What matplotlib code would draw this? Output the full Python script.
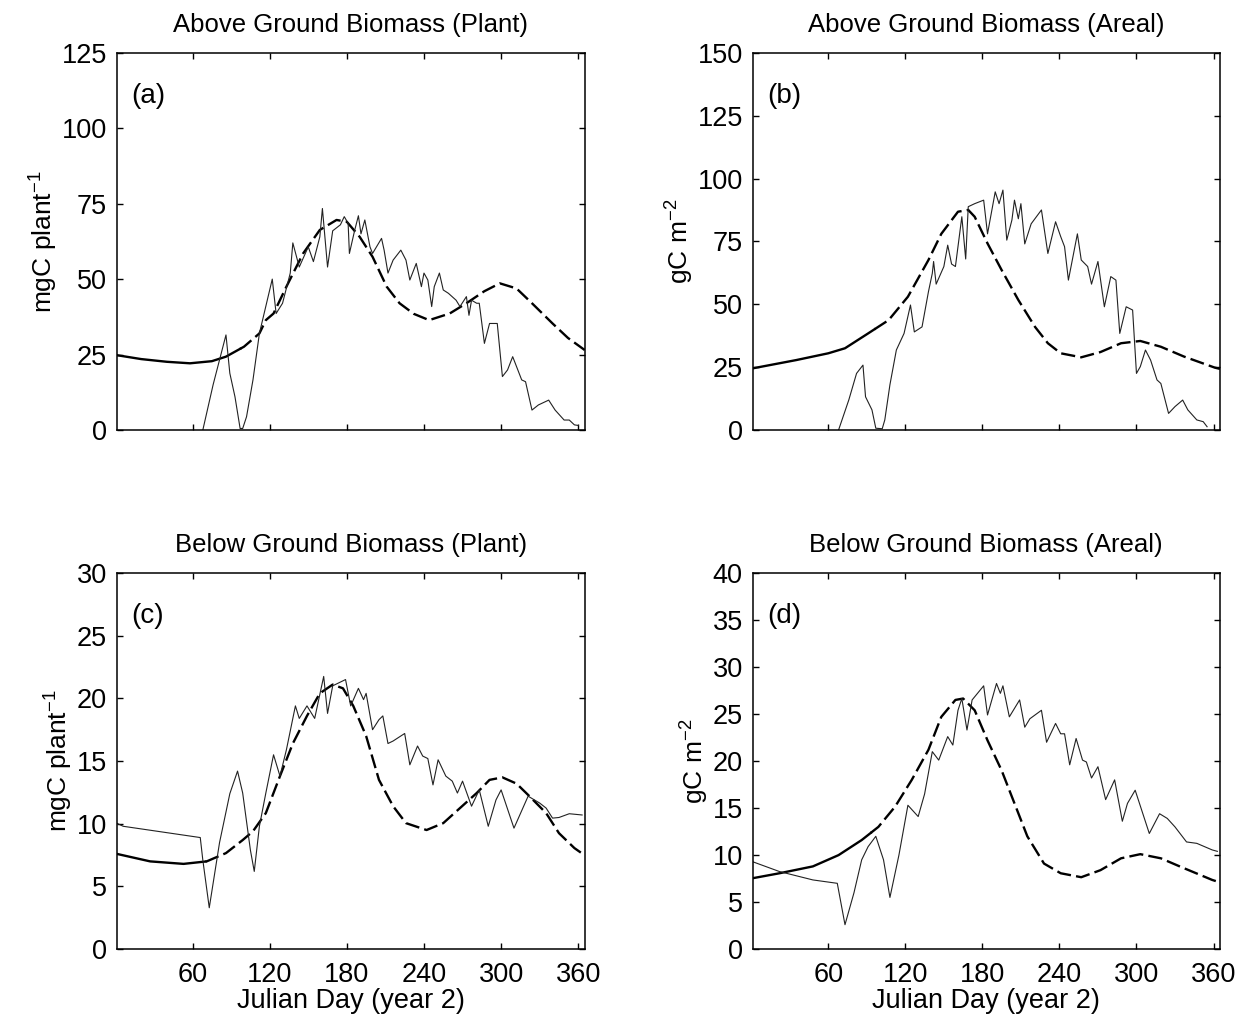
import matplotlib
matplotlib.use('Agg')
import matplotlib.pyplot as plt
import numpy as np

plt.rcParams['font.family'] = ['Liberation Sans', 'DejaVu Sans']
plt.rcParams['mathtext.fontset'] = 'custom'
plt.rcParams['mathtext.rm'] = 'Liberation Sans'
plt.rcParams['mathtext.default'] = 'regular'

# (a) above ground biomass per plant
a_model_day = [1, 20, 40, 58, 75, 86, 100, 112, 117, 123, 133, 146, 159, 172, 180, 190, 200, 211,
               221, 232, 244, 260, 273, 287, 299, 312, 324, 340, 352, 365]
a_model_val = [24.8, 23.5, 22.6, 22.1, 22.8, 24.3, 27.6, 32, 36.4, 38.6, 47.5, 58.5, 66.3, 69.6, 69,
               64, 57.4, 47.5, 42, 38.5, 36.4, 38.6, 42, 46, 48.6, 46.9, 42, 35.3, 30.5, 26.5]
a_obs_day = [68, 76, 86, 89, 93, 97, 99, 102, 107, 112, 117, 122, 125, 130, 136, 138, 143, 150, 154,
             159, 161, 165, 169, 175, 178, 181, 182, 186, 189, 191, 194, 198, 200, 207, 209, 212,
             216, 222, 226, 229, 234, 238, 240, 243, 246, 248, 252, 255, 259, 265, 268, 273, 275,
             277, 281, 283, 287, 291, 297, 301, 305, 309, 316, 319, 324, 329, 337, 342, 349, 353,
             357, 360]
a_obs_val = [0, 15, 31.5, 18.8, 11, 0.5, 0.5, 4.4, 16.6, 32, 41, 50, 38.6, 42, 52, 62, 54, 60.7,
             55.8, 64, 73.4, 54, 66, 68, 70.7, 68.5, 58.5, 66, 71, 65, 69.6, 60.7, 58.5, 63.5,
             59.6, 52, 56.3, 59.6, 56.3, 49.7, 55.2, 47.5, 52, 49.7, 40.9, 47.5, 52, 46.4, 45.3,
             43, 40.9, 44.2, 38, 43, 42, 42, 28.7, 35.3, 35.3, 17.7, 19.9, 24.3, 16.6, 16, 6.6,
             8.3, 9.9, 6.6, 3.3, 3.3, 1.7, 1.5]

# (b) above ground biomass per area
b_model_day = [1, 35, 60, 73, 91, 107, 122, 138, 148, 161, 169, 174, 184, 195, 208, 221, 231, 241,
               257, 272, 288, 303, 319, 337, 361, 365]
b_model_val = [24.5, 27.8, 30.5, 32.5, 38.4, 43.7, 53, 67.6, 78, 86.8, 87.5, 84.8, 74.2, 63.6,
               51.7, 41, 34.5, 30.5, 28.9, 31, 34.5, 35.4, 33.1, 29.2, 24.8, 24.3]
b_obs_day = [68, 76, 82, 87, 89, 94, 97, 102, 104, 108, 113, 119, 124, 127, 133, 138, 141, 142,
             144, 150, 153, 156, 159, 164, 167, 169, 174, 181, 184, 190, 193, 196, 199, 203, 205,
             208, 210, 213, 218, 226, 231, 237, 241, 244, 247, 254, 257, 262, 265, 270, 275, 280,
             284, 287, 292, 297, 300, 303, 307, 311, 316, 319, 325, 330, 336, 340, 347, 352, 355]
b_obs_val = [0, 12, 22.5, 25.8, 13.2, 8, 0.7, 0.5, 4, 18, 31.8, 38.4, 49.7, 39, 41, 55, 62.3, 67,
             58, 65, 73.5, 66, 65, 84.8, 68, 88.8, 90, 91.4, 78, 94.7, 90, 95.4, 75.5, 83.5, 91.4,
             84, 90, 74, 82, 87.5, 70.2, 82.8, 76.9, 72.9, 59.6, 78, 67.6, 65, 58, 67, 49, 61,
             59.6, 38.4, 49, 47.7, 22.5, 25.2, 31.8, 27.8, 19.9, 18.5, 6.6, 9.3, 11.9, 8, 4, 3.3,
             1.3]

# (c) below ground biomass per plant
c_model_day = [1, 27, 53, 71, 86, 99, 107, 117, 128, 138, 149, 159, 169, 177, 185, 195, 205, 216,
               226, 242, 255, 268, 281, 291, 301, 312, 322, 335, 345, 357, 362]
c_model_val = [7.6, 7.0, 6.8, 7.0, 7.66, 8.7, 9.4, 10.85, 13.8, 16.4, 18.6, 20.4, 21.1, 20.8, 19.4,
               17, 13.5, 11.4, 10.05, 9.5, 10.05, 11.25, 12.45, 13.5, 13.7, 13.2, 12.2, 10.85,
               9.25, 8.06, 7.7]
c_obs_day = [1, 6, 66, 68, 73, 81, 89, 95, 99, 105, 108, 112, 117, 123, 128, 133, 140, 143, 149,
             155, 162, 165, 169, 179, 183, 189, 193, 195, 200, 205, 208, 212, 216, 225, 229, 235,
             239, 243, 247, 251, 257, 262, 266, 270, 277, 283, 290, 296, 300, 310, 321, 330, 335,
             340, 345, 353, 363]
c_obs_val = [10.05, 9.8, 8.9, 7.1, 3.3, 8.5, 12.4, 14.2, 12.45, 7.9, 6.2, 9.8, 12.45, 15.5, 13.8,
             15.9, 19.4, 18.4, 19.4, 18.4, 21.75, 18.8, 21, 21.5, 19.4, 20.8, 19.9, 20.4, 17.5,
             18.3, 18.6, 16.4, 16.6, 17.2, 14.7, 16.2, 15.4, 15.2, 13.1, 15.1, 13.8, 13.4, 12.45,
             13.4, 11.4, 12.7, 9.8, 11.9, 12.7, 9.65, 12.2, 11.65, 11.25, 10.45, 10.5, 10.8, 10.7]

# (d) below ground biomass per area
d_model_day = [1, 22, 48, 68, 86, 99, 112, 125, 138, 148, 159, 165, 174, 184, 195, 205, 215, 228,
               241, 257, 272, 288, 303, 319, 334, 359, 365]
d_model_val = [7.54, 8.07, 8.8, 10.0, 11.6, 13, 15.15, 18, 21.2, 24.7, 26.5, 26.65, 25.4, 22.2,
               19, 15.5, 12, 9.1, 8.07, 7.65, 8.4, 9.66, 10.1, 9.66, 8.78, 7.36, 7.1]
d_obs_day = [1, 22, 48, 67, 73, 80, 86, 91, 97, 103, 108, 115, 122, 130, 135, 141, 146, 153, 157,
             161, 164, 168, 172, 181, 184, 191, 194, 196, 201, 209, 213, 217, 226, 230, 237, 241,
             244, 248, 253, 258, 261, 265, 270, 276, 283, 289, 293, 299, 310, 318, 324, 330, 339,
             347, 359, 363]
d_obs_val = [9.3, 8.25, 7.36, 7.0, 2.6, 6, 9.5, 10.9, 12, 9.5, 5.5, 10, 15.3, 14.1, 16.5, 21, 20.1,
             22.6, 21.7, 25.4, 26.65, 23.3, 26.5, 28, 24.9, 28.25, 27.2, 28, 24.7, 26.5, 23.6,
             24.5, 25.4, 22, 24, 22.9, 22.9, 19.6, 22.4, 20.1, 19.9, 18.2, 19.4, 15.9, 18, 13.6,
             15.5, 16.9, 12.3, 14.4, 13.9, 13, 11.4, 11.25, 10.55, 10.4]

titles = ['Above Ground Biomass (Plant)', 'Above Ground Biomass (Areal)',
          'Below Ground Biomass (Plant)', 'Below Ground Biomass (Areal)']
panel_tags = ['(a)', '(b)', '(c)', '(d)']
ylabels = ['mgC plant$^{-1}$', 'gC m$^{-2}$', 'mgC plant$^{-1}$', 'gC m$^{-2}$']
ymax = [125, 150, 30, 40]
ystep = [25, 25, 5, 5]
# model curve drawn solid up to this day, dashed after
solid_until = [97, 96, 70, 93]
xticks = [60, 120, 180, 240, 300, 360]

panels = [(a_model_day, a_model_val, a_obs_day, a_obs_val),
          (b_model_day, b_model_val, b_obs_day, b_obs_val),
          (c_model_day, c_model_val, c_obs_day, c_obs_val),
          (d_model_day, d_model_val, d_obs_day, d_obs_val)]

fig = plt.figure(figsize=(12.48, 10.25), dpi=100)
rects = [[0.0935, 0.5805, 0.375, 0.368], [0.603, 0.5805, 0.3745, 0.368],
         [0.0935, 0.074, 0.375, 0.367], [0.603, 0.074, 0.3745, 0.367]]

for i, (md, mv, od, ov) in enumerate(panels):
    ax = fig.add_axes(rects[i])
    md = np.array(md, dtype=float)
    mv = np.array(mv, dtype=float)
    # split model curve into a solid head and dashed tail
    cut = solid_until[i]
    v_cut = np.interp(cut, md, mv)
    head = md < cut
    tail = md > cut
    ax.plot(np.r_[md[head], cut], np.r_[mv[head], v_cut], color='black', lw=1.7)
    ax.plot(np.r_[cut, md[tail]], np.r_[v_cut, mv[tail]], color='black', lw=1.7,
            dashes=(6, 2.2))
    ax.plot(od, ov, color='#222222', lw=0.8)

    ax.set_xlim(1, 365)
    ax.set_ylim(0, ymax[i])
    ax.set_xticks(xticks)
    ax.set_yticks(np.arange(0, ymax[i] + 1, ystep[i]))
    ax.tick_params(direction='in', top=True, right=True, length=4, width=1,
                   labelsize=19.5, pad=7)
    ax.tick_params(axis='x', pad=9)
    if i < 2:
        ax.set_xticklabels([])
    else:
        ax.set_xlabel('Julian Day (year 2)', fontsize=19.5, labelpad=0)
    ax.set_ylabel(ylabels[i], fontsize=19, labelpad=1)
    ax.set_title(titles[i], fontsize=18.5, pad=15)
    ax.text(0.032, 0.885, panel_tags[i], transform=ax.transAxes, fontsize=20,
            ha='left', va='center')
    for s in ax.spines.values():
        s.set_linewidth(1.1)

fig.savefig('out.png', dpi=100)
